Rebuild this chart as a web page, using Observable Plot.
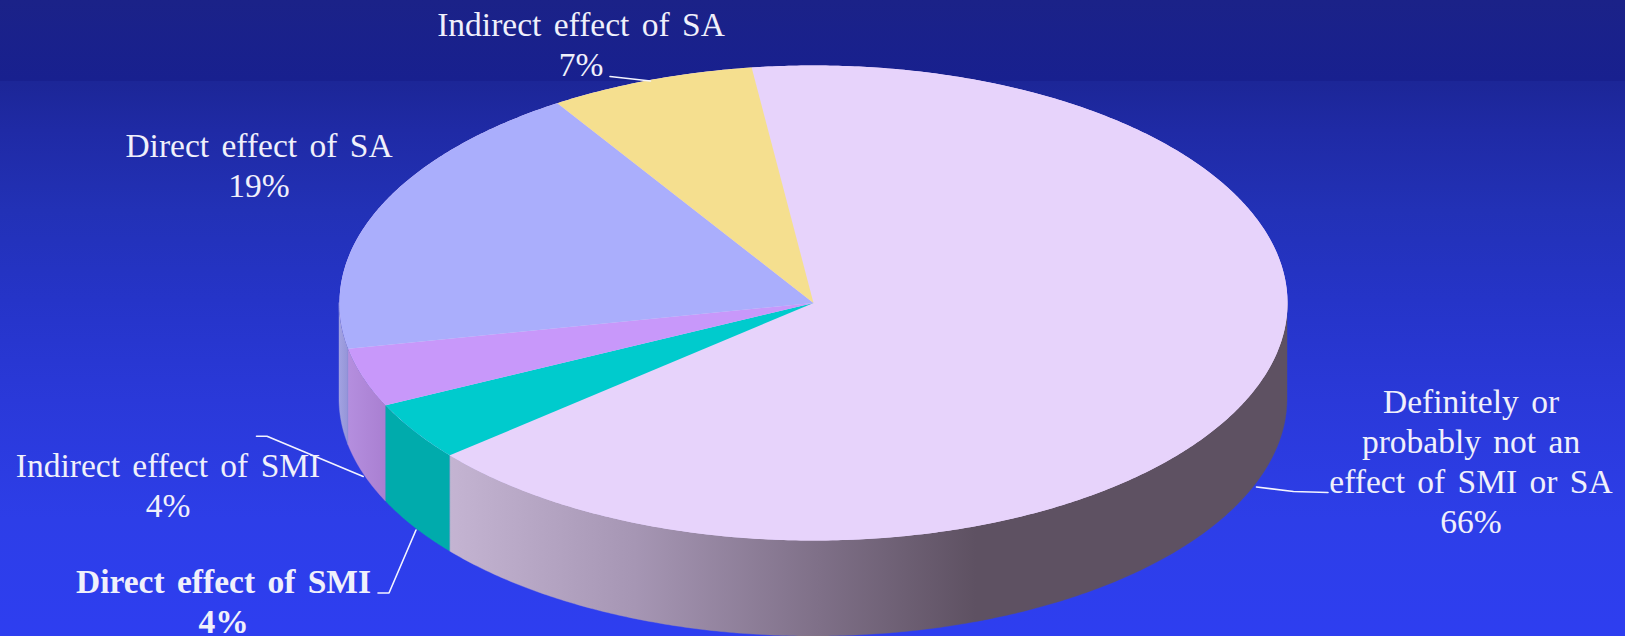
<!DOCTYPE html>
<html>
<head>
<meta charset="utf-8">
<script src="https://cdn.jsdelivr.net/npm/d3@7"></script>
<script src="https://cdn.jsdelivr.net/npm/@observablehq/plot@0.6"></script>
<style>
html,body{margin:0;padding:0;background:#2e3ef0;overflow:hidden}
svg{display:block}
svg text{word-spacing:4px}
</style>
</head>
<body>
<div id="chart"></div>
<script>
// Data, clockwise from the pie's first slice
const categories = ["Definitely or\nprobably not an\neffect of SMI or SA", "Direct effect of SMI", "Indirect effect of SMI", "Direct effect of SA", "Indirect effect of SA"];
const shares = [66, 4, 4, 19, 7];
const topColors = ["#e7d3fb", "#00cbcd", "#c898fa", "#aaaefc", "#f5df8f"];
const sideColors = ["url(#sideRest)", "#00abac", "url(#sidePurple)", "url(#sideBlue)", "#b8a66a"];
const labelTexts = categories.map((c, i) => `${c}\n${shares[i]}%`);

// Layout of the tilted disc
const cx = 813, cy = 302.5, rx = 474, ry = 237.5, depth = 96, startAngle = -7.5;
const rad = (a) => (a * Math.PI) / 180;
const px = (a) => cx + rx * Math.sin(rad(a));
const py = (a) => cy - ry * Math.cos(rad(a));

let running = startAngle;
const slices = shares.map((v, i) => {
  const a0 = running, a1 = running + v * 3.6;
  running = a1;
  return {a0, a1, top: topColors[i], side: sideColors[i]};
});

function sweep(a0, a1) {
  const n = Math.max(2, Math.ceil((a1 - a0) * 2));
  return d3.range(n + 1).map((k) => a0 + ((a1 - a0) * k) / n);
}
const wedge = (s) => [
  {x: cx, y: cy},
  ...sweep(s.a0, s.a1).map((a) => ({x: px(a), y: py(a)})),
  {x: cx, y: cy}
];
const disc = sweep(0, 360).map((a) => ({x: px(a), y: py(a)}));
const wall = (s) => {
  const a0 = Math.max(s.a0, 90), a1 = Math.min(s.a1, 270);
  if (a1 <= a0) return [];
  return sweep(a0, a1).map((a) => ({x: px(a), top: py(a), bottom: py(a) + depth}));
};

// Label placement
const labelBoxes = [
  {x: 1470.5, y: 532.5, bold: false},
  {x: 223, y: 632.5, bold: true},
  {x: 167.5, y: 516, bold: false},
  {x: 258.5, y: 196.5, bold: false},
  {x: 580.5, y: 75, bold: false}
].map((d, i) => ({...d, text: labelTexts[i]}));

const leaders = [
  [[1256, 486.5], [1293, 491], [1327.5, 492]],
  [[377.5, 592.5], [388.5, 592.5], [415.5, 529.5]],
  [[256, 435.7], [266.5, 435.7], [362.7, 476]],
  [[609.5, 76], [650, 80.5]]
].flatMap((pts, id) => pts.map(([x, y]) => ({id, x, y})));

const gradientDefs = () => {
  const defs = d3.create("svg:defs");
  const add = (id, x1, x2, stops) => {
    const g = defs.append("linearGradient").attr("id", id)
      .attr("gradientUnits", "userSpaceOnUse")
      .attr("x1", x1).attr("x2", x2).attr("y1", 0).attr("y2", 0);
    stops.forEach(([o, c]) => g.append("stop").attr("offset", o).attr("stop-color", c));
  };
  add("sideRest", 450, 976, [[0, "#c4b4d2"], [0.35, "#a696b4"], [0.7, "#7f7088"], [1, "#5e5162"]]);
  add("sidePurple", 349, 386, [[0, "#b48ede"], [1, "#a97fd1"]]);
  add("sideBlue", 339, 349, [[0, "#a2a2e2"], [1, "#9393d6"]]);
  return defs.node();
};

const plot = Plot.plot({
  width: 1625,
  height: 636,
  margin: 0,
  x: {domain: [0, 1625], range: [0, 1625], axis: null},
  y: {domain: [0, 636], range: [0, 636], axis: null},
  style: {
    background: "linear-gradient(to bottom,#1b2288 0,#18208f 81px,#1c2697 81px,#1f2aa5 130px,#2231b6 210px,#2534c8 300px,#2a39d9 400px,#2d3ee8 520px,#2e3ef0 636px)",
    fontFamily: "'Liberation Serif','Times New Roman',serif"
  },
  marks: [
    gradientDefs,
    ...slices.map((s) => Plot.areaY(wall(s), {x: "x", y1: "top", y2: "bottom", fill: s.side, stroke: s.side, strokeWidth: 0.4})),
    Plot.line(disc, {x: "x", y: "y", fill: topColors[0], stroke: "none"}),
    ...slices.map((s) => Plot.line(wedge(s), {x: "x", y: "y", fill: s.top, stroke: "none"})),
    Plot.line(leaders, {x: "x", y: "y", z: "id", stroke: "#f4f4ff", strokeWidth: 1.6, curve: "linear"}),
    ...[false, true].map((bold) => Plot.text(labelBoxes.filter((d) => d.bold === bold), {
      x: "x", y: "y", text: "text",
      fill: "#f0f0fb", fontSize: 33.5, lineHeight: 1.194, lineAnchor: "bottom",
      textAnchor: "middle", fontWeight: bold ? "bold" : "normal"
    }))
  ]
});
document.getElementById("chart").append(plot);
</script>
</body>
</html>
